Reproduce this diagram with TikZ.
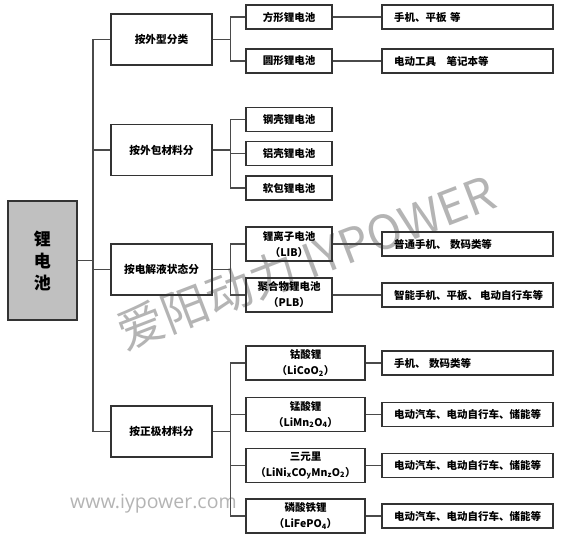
\documentclass[tikz,border=0pt]{standalone}
\usepackage{fontspec}
\setmainfont{Noto Sans CJK SC}
\newfontfamily\webfont{Open Sans}
\usetikzlibrary{positioning,calc}
\definecolor{boxline}{HTML}{333333}
\definecolor{linkgray}{HTML}{4a4a4a}
\definecolor{rootgray}{HTML}{c0c0c0}
\definecolor{markgray}{HTML}{b4b4b4}
\tikzset{
  root/.style={
    draw = boxline,
    line width = 2pt,
    fill = rootgray,
    minimum width = 69pt,
    minimum height = 119pt,
    inner sep = 0pt,
    align = center,
    font = \fontsize{17}{22}\selectfont\bfseries
  },
  cls/.style={
    draw = boxline,
    line width = 1.3pt,
    minimum width = 101pt,
    minimum height = 51pt,
    inner sep = 0pt,
    font = \fontsize{10.7}{14}\selectfont\bfseries
  },
  kind/.style={
    draw = boxline,
    line width = 1.3pt,
    minimum width = 86pt,
    minimum height = 24pt,
    inner sep = 0pt,
    align = center,
    font = \fontsize{10.5}{16}\selectfont\bfseries
  },
  kindtall/.style={
    kind,
    minimum height = 34pt
  },
  kindwide/.style={
    kindtall,
    minimum width = 119pt
  },
  use/.style={
    draw = boxline,
    line width = 1.3pt,
    minimum height = 24pt,
    text width = 147pt,
    inner xsep = 12pt,
    inner ysep = 0pt,
    align = left,
    font = \fontsize{10.5}{14}\selectfont\bfseries
  },
  link/.style={
    draw = linkgray,
    line width = 1.3pt
  }
}

\begin{document}
\begin{tikzpicture}[x=1pt,y=-1pt]
  \useasboundingbox (0,0) rectangle (568,540);
  % watermark
  \node[text=markgray, rotate=21, font=\fontsize{47}{47}\selectfont] (mark) at (306,262) {爱阳动力 IYPOWER};
  \node[text=markgray, anchor=base west, inner sep=0pt, font=\webfont\fontsize{19.5}{19.5}\selectfont] (web) at (70,508) {www.iypower.com};

  \node[root] (li) at (42.5,260.5) {锂\\电\\池};

  \node[cls] (shape) at (161.5,39.5) {按外型分类};
  \node[cls] (pack) at (161.5,150) {按外包材料分};
  \node[cls] (elec) at (161.5,269.5) {按电解液状态分};
  \node[cls] (cath) at (161.5,431.5) {按正极材料分};

  \node[kind] (square) at (289,17) {方形锂电池};
  \node[kind] (round) at (289,61) {圆形锂电池};
  \node[kind] (steel) at (289,119.5) {钢壳锂电池};
  \node[kind] (alu) at (289,153.5) {铝壳锂电池};
  \node[kind] (soft) at (289,188) {软包锂电池};
  \node[kindtall] (lib) at (289,244) {锂离子电池\\（LIB）};
  \node[kindtall] (plb) at (289,295) {聚合物锂电池\\（PLB）};
  \node[kindwide] (lco) at (305.5,363) {钴酸锂\\（LiCoO\textsubscript{2}）};
  \node[kindwide] (lmo) at (305.5,414.5) {锰酸锂\\（LiMn\textsubscript{2}O\textsubscript{4}）};
  \node[kindwide] (ncm) at (305.5,465.5) {三元里\\（LiNi\textsubscript{x}CO\textsubscript{y}Mn\textsubscript{z}O\textsubscript{2}）};
  \node[kindwide] (lfp) at (305.5,516) {磷酸铁锂\\（LiFePO\textsubscript{4}）};

  \node[use] (usesq) at (467.5,17) {手机、平板 等};
  \node[use] (usern) at (467.5,61) {电动工具\hspace{1em}笔记本等};
  \node[use] (uselib) at (467.5,244) {普通手机、 数码类等};
  \node[use] (useplb) at (467.5,295) {\mbox{智能手机、平板、\hspace{0.2em}电动自行车等}};
  \node[use] (uselco) at (467.5,363) {手机、 数码类等};
  \node[use] (uselmo) at (467.5,414.5) {电动汽车、电动自行车、储能等};
  \node[use] (usencm) at (467.5,465.5) {电动汽车、电动自行车、储能等};
  \node[use] (uselfp) at (467.5,516) {电动汽车、电动自行车、储能等};

  % trunk
  \coordinate (trunk) at (93,0);
  \draw[link] (li.east) -- (li.east -| trunk);
  \draw[link] (shape.west) -| (trunk |- cath.west) -- (cath.west);
  \draw[link] (pack.west) -- (pack.west -| trunk);
  \draw[link] (elec.west) -- (elec.west -| trunk);

  % branches
  \draw[link] (shape.east) -- ++(17.5,0) coordinate (bshape);
  \draw[link] (bshape) |- (square.west);
  \draw[link] (bshape) |- (round.west);
  \draw[link] (pack.east) -- ++(17.5,0) coordinate (bpack);
  \draw[link] (bpack) |- (steel.west);
  \draw[link] (bpack) |- (alu.west);
  \draw[link] (bpack) |- (soft.west);
  \draw[link] (elec.east) -- ++(17.5,0) coordinate (belec);
  \draw[link] (belec) |- (lib.west);
  \draw[link] (belec) |- (plb.west);
  \draw[link] (cath.east) -- ++(17.5,0) coordinate (bcath);
  \draw[link] (bcath) |- (lco.west);
  \draw[link] (bcath) |- (lmo.west);
  \draw[link] (bcath) |- (ncm.west);
  \draw[link] (bcath) |- (lfp.west);

  % uses
  \draw[link] (square) -- (usesq);
  \draw[link] (round) -- (usern);
  \draw[link] (lib) -- (uselib);
  \draw[link] (plb) -- (useplb);
  \draw[link] (lco) -- (uselco);
  \draw[link] (lmo) -- (uselmo);
  \draw[link] (ncm) -- (usencm);
  \draw[link] (lfp) -- (uselfp);
\end{tikzpicture}
\end{document}
